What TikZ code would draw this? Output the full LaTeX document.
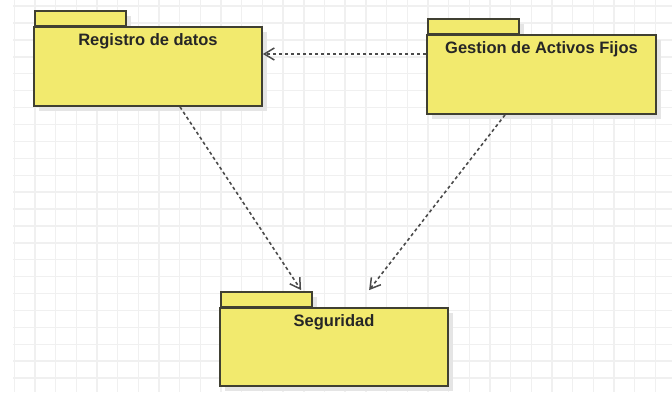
\documentclass[tikz,border=0pt]{standalone}
\usepackage{fontspec}
\setmainfont{Liberation Sans}
\usetikzlibrary{arrows.meta,shadows}

\definecolor{pkgfill}{RGB}{242,234,110}
\definecolor{pkgline}{RGB}{64,64,50}
\definecolor{depline}{RGB}{75,75,75}

\begin{document}
\begin{tikzpicture}[x=1pt,y=-1pt,
    gridline/.style={black!6,line width=1.4pt},
    pkg/.style={rectangle,draw=pkgline,fill=pkgfill,line width=1.8pt,
                minimum width=228pt,minimum height=79pt,inner sep=0pt,
                drop shadow={shadow xshift=5pt,shadow yshift=-5pt,fill=black!10,opacity=1}},
    pkgtab/.style={pkg,minimum width=91pt,minimum height=15pt,anchor=south west},
    pkgname/.style={font=\fontsize{16.5}{18}\selectfont\bfseries,text=black!85,anchor=base},
    dep/.style={depline,line width=1.6pt,dash pattern=on 3.2pt off 2.8pt,
                -{Straight Barb[length=10pt,width=12pt,line width=1.5pt]}}]

  \useasboundingbox (0,0) rectangle (672,393);
  \fill[white] (0,0) rectangle (672,393);

  % background grid
  \foreach \gx in {0,...,31}
    \draw[gridline] (14.3+20.68*\gx,0) -- ++(0,392);
  \foreach \gy in {0,...,22}
    \draw[gridline] (13,6.2+16.9*\gy) -- (672,6.2+16.9*\gy);

  % packages
  \node[pkgtab] (reg-tab) at (34,27) {};
  \node[pkg] (reg) at (148,66.5) {};
  \node[pkgname] (reg-name) at ([yshift=-19.7pt]reg.north) {Registro de datos};

  \node[pkgtab] (gest-tab) at (427,35) {};
  \node[pkg,minimum width=229pt] (gest) at (541.5,74.5) {};
  \node[pkgname] (gest-name) at ([yshift=-19.7pt]gest.north) {Gestion de Activos Fijos};

  \node[pkgtab] (seg-tab) at (220,308) {};
  \node[pkg,minimum height=78pt] (seg) at (334,347) {};
  \node[pkgname] (seg-name) at ([yshift=-19.7pt]seg.north) {Seguridad};

  % dependencies
  \coordinate (seg-in1) at ([shift={(82,-17)}]seg.north west);
  \coordinate (seg-in2) at ([shift={(150,-17)}]seg.north west);
  \draw[dep] ([yshift=20.5pt]gest.west) -- ([yshift=12.5pt]reg.east);
  \draw[dep] ([xshift=32pt]reg.south) -- (seg-in1);
  \draw[dep] ([xshift=-36.5pt]gest.south) -- (seg-in2);
\end{tikzpicture}
\end{document}
